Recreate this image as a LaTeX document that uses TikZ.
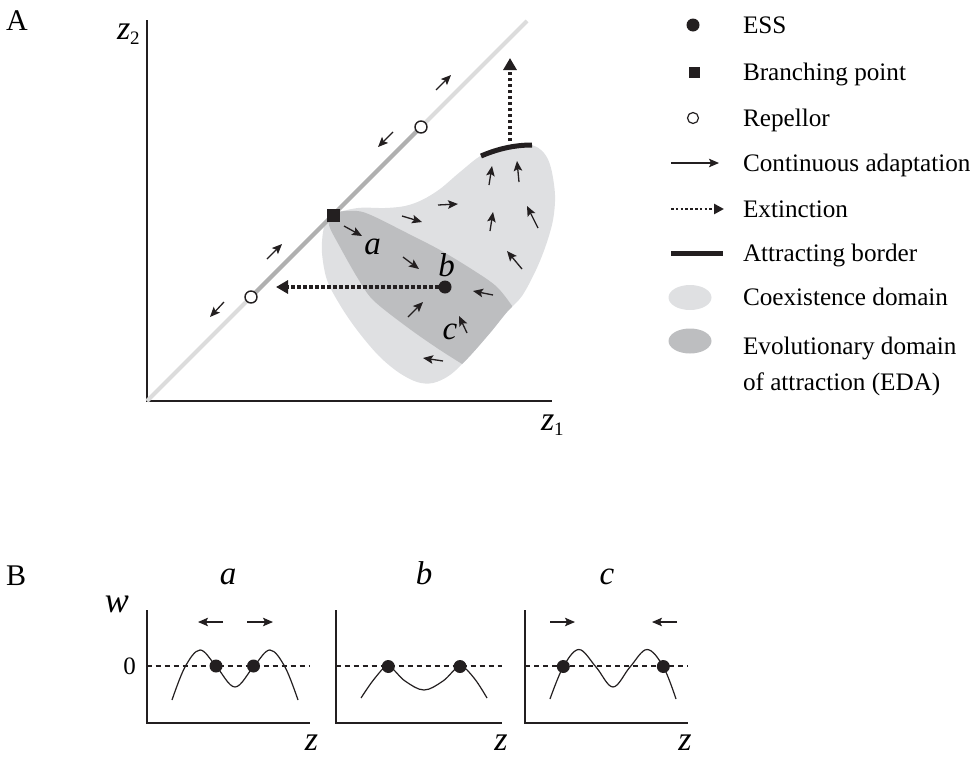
\documentclass[tikz,border=0pt]{standalone}
\usepackage{fontspec}
\setmainfont{Liberation Serif}
\usetikzlibrary{arrows.meta}
\definecolor{lightdom}{HTML}{DFE0E2}
\definecolor{darkdom}{HTML}{BDBEC0}
\definecolor{diaglight}{HTML}{DCDCDC}
\definecolor{diagdark}{HTML}{B0B0B0}
\definecolor{ink}{HTML}{231F20}
\begin{document}
\begin{tikzpicture}[x=1pt,y=-1pt,
  every node/.style={inner sep=0pt, outer sep=0pt},
  adapt/.style={draw=ink, line width=1.3pt, -{Stealth[length=10pt,width=8.5pt,inset=2pt]}},
  extinct/.style={draw=ink, line width=3.3pt, dash pattern=on 3.3pt off 2.7pt, -{Triangle[length=12pt,width=13pt]}},
  legextinct/.style={draw=ink, line width=2.6pt, dash pattern=on 2.6pt off 2.2pt, -{Triangle[length=10pt,width=10pt]}},
  border/.style={draw=ink, line width=5pt},
  essdot/.style={circle, fill=ink, minimum size=13pt},
  bpsq/.style={rectangle, fill=ink, minimum size=13pt},
  repel/.style={circle, draw=ink, fill=white, line width=1.4pt, minimum size=12pt},
  axisline/.style={draw=ink, line width=1.6pt},
  curve/.style={draw=ink, line width=1.2pt},
  zeroline/.style={draw=ink, line width=1.2pt, dash pattern=on 5pt off 4pt},
  legtext/.style={font=\fontsize{25.2}{29}\selectfont, anchor=base west},
  panellab/.style={font=\fontsize{30}{32}\selectfont, anchor=base west},
  itlab/.style={font=\fontsize{33}{34}\selectfont\itshape},
  varlab/.style={font=\fontsize{34}{36}\selectfont\itshape}
]
\useasboundingbox (0,0) rectangle (977,758);

% ---------- Panel A ----------
\node[panellab] (labA) at (6,30) {A};

% coexistence domain
\fill[lightdom] plot[smooth cycle, tension=0.55] coordinates {
 (332,214) (358,208) (385,208) (405,206) (422,200) (440,189) (460,172) (482,155)
 (506,147) (531,145) (544,153) (551,168) (555,195) (553,220) (546,245) (536,270)
 (522,296) (507,312) (490,333) (468,358) (450,375) (433,383) (417,382) (398,372)
 (378,355) (357,330) (340,305) (327,280) (322,253) (323,232) (327,219)};
% EDA
\begin{scope}
\clip plot[smooth cycle, tension=0.55] coordinates {
 (332,214) (358,208) (385,208) (405,206) (422,200) (440,189) (460,172) (482,155)
 (506,147) (531,145) (544,153) (551,168) (555,195) (553,220) (546,245) (536,270)
 (522,296) (507,312) (490,333) (468,358) (450,375) (433,383) (417,382) (398,372)
 (378,355) (357,330) (340,305) (327,280) (322,253) (323,232) (327,219)};
\fill[darkdom] plot[smooth cycle, tension=0.5] coordinates {
 (333,213) (357,211) (373,216) (407,233) (440,250) (473,270) (497,287) (515,310)
 (535,340) (505,392) (478,374) (440,350) (407,327) (373,300) (357,277) (340,247) (329,225)};
\end{scope}

% axes
\draw[axisline] (147,20) -- (147,401) -- (552,401);
\node[varlab, anchor=base west] (z2lab) at (117,39) {z\raisebox{-5pt}{\fontsize{19}{19}\selectfont\upshape 2}};
\node[varlab, anchor=base west] (z1lab) at (541,430) {z\raisebox{-5pt}{\fontsize{19}{19}\selectfont\upshape 1}};

% diagonal
\draw[diaglight, line width=4pt] (147,401) -- (527,21);
\coordinate (r1c) at (251,297);
\coordinate (r2c) at (421,127);
\draw[diagdark, line width=4pt] (r1c) -- (r2c);

% arrows along diagonal
\draw[adapt] (436,90) -- (451,75);
\draw[adapt] (393,132) -- (378,147);
\draw[adapt] (267,259) -- (282,244);
\draw[adapt] (224,302) -- (210,317);

% arrows in domain
\draw[adapt] (344,226) -- (362,236);
\draw[adapt] (403,257) -- (419,269);
\draw[adapt] (408,317) -- (423,302);
\draw[adapt] (443,361) -- (423,358);
\draw[adapt] (467,333) -- (459,316);
\draw[adapt] (402,216) -- (422,222);
\draw[adapt] (438,205) -- (458,204);
\draw[adapt] (489,185) -- (492,166);
\draw[adapt] (519,182) -- (517,161);
\draw[adapt] (490,231) -- (493,212);
\draw[adapt] (538,228) -- (527,206);
\draw[adapt] (522,269) -- (507,251);
\draw[adapt] (493,295) -- (473,291);

% attracting border
\draw[border] (481,156) .. controls (495,150) and (512,145) .. (532,145);

% points
\node[bpsq] (bp) at (333,215) {};
\node[repel] (rep1) at (r1c) {};
\node[repel] (rep2) at (r2c) {};
\node[essdot] (ess) at (445,287) {};

% extinction arrows
\coordinate (xtipA) at (276,287);
\draw[extinct] (ess.west) -- (xtipA);
\coordinate (xstartB) at (510,141);
\coordinate (xtipB) at (510,58);
\draw[extinct] (xstartB) -- (xtipB);

% italic labels
\node[itlab] (la) at (372.5,246.5) {a};
\node[itlab] (lb) at (446.5,265.5) {b};
\node[itlab] (lc) at (450,332) {c};

% ---------- Legend ----------
\node[essdot] (lgess) at (693,25) {};
\node[legtext] (tess) at (743,33) {ESS};
\node[bpsq, minimum size=11pt] (lgbp) at (694,72) {};
\node[legtext] (tbp) at (743,80) {Branching point};
\node[repel, minimum size=11pt, line width=1.2pt] (lgrep) at (693,118) {};
\node[legtext] (trep) at (743,126) {Repellor};
\coordinate (lgca1) at (671,163);
\coordinate (lgca2) at (719,163);
\draw[adapt] (lgca1) -- (lgca2);
\node[legtext] (tca) at (743,171) {Continuous adaptation};
\coordinate (lgex1) at (671,209);
\coordinate (lgex2) at (724,209);
\draw[legextinct] (lgex1) -- (lgex2);
\node[legtext] (tex) at (743,217) {Extinction};
\coordinate (lgab1) at (671,253);
\coordinate (lgab2) at (723,253);
\draw[border] (lgab1) -- (lgab2);
\node[legtext] (tab) at (743,261) {Attracting border};
\fill[lightdom] (690,297.5) ellipse [x radius=21.5, y radius=12.5];
\node[legtext] (tcd) at (743,305) {Coexistence domain};
\fill[darkdom] (690,341) ellipse [x radius=21.5, y radius=12.5];
\node[legtext] (ted1) at (743,354) {Evolutionary domain};
\node[legtext] (ted2) at (743,390) {of attraction (EDA)};

% ---------- Panel B ----------
\node[panellab] (labB) at (6,585) {B};
\node[itlab, anchor=base] (pa) at (228,584) {a};
\node[itlab, anchor=base] (pb) at (424,584) {b};
\node[itlab, anchor=base] (pc) at (607,584) {c};
\node[font=\fontsize{36}{36}\selectfont\itshape] (wlab) at (117,604) {w};
\node[font=\fontsize{25}{25}\selectfont] (zero) at (129.5,666.5) {0};

% panel a
\draw[axisline] (146.7,610) -- (146.7,723) -- (310,723);
\draw[zeroline] (146.7,666) -- (310,666);
\draw[curve] plot[smooth, tension=0.6] coordinates {(172,700) (185,667) (200,650) (216,666) (235,687) (254,666) (270,650) (285,667) (298,700)};
\node[essdot] (ad1) at (216,666) {};
\node[essdot] (ad2) at (253.5,666) {};
\draw[adapt] (223,622) -- (198,622);
\draw[adapt] (247,622) -- (273,622);
\node[varlab] (za) at (311.5,743) {z};

% panel b
\draw[axisline] (335.7,610) -- (335.7,723) -- (501.7,723);
\draw[zeroline] (335.7,666) -- (501.7,666);
\draw[curve] plot[smooth, tension=0.6] coordinates {(361,698) (375,678) (388.3,666.5) (405,681) (424,690) (443,681) (460,666.5) (474,678) (487,698)};
\node[essdot] (bd1) at (388.3,666.5) {};
\node[essdot] (bd2) at (460,666.5) {};
\node[varlab] (zb) at (501,743) {z};

% panel c
\draw[axisline] (525,610) -- (525,723) -- (688,723);
\draw[zeroline] (525,666) -- (688,666);
\draw[curve] plot[smooth, tension=0.6] coordinates {(550,699) (563.3,666.7) (579,649.5) (596,667) (613,687) (630,667) (647,649.5) (663.3,666.7) (676,699)};
\node[essdot] (cd1) at (563.3,666.5) {};
\node[essdot] (cd2) at (663.3,666.5) {};
\draw[adapt] (550,622) -- (575,622);
\draw[adapt] (677,622) -- (652,622);
\node[varlab] (zc) at (685,743) {z};
\end{tikzpicture}
\end{document}
